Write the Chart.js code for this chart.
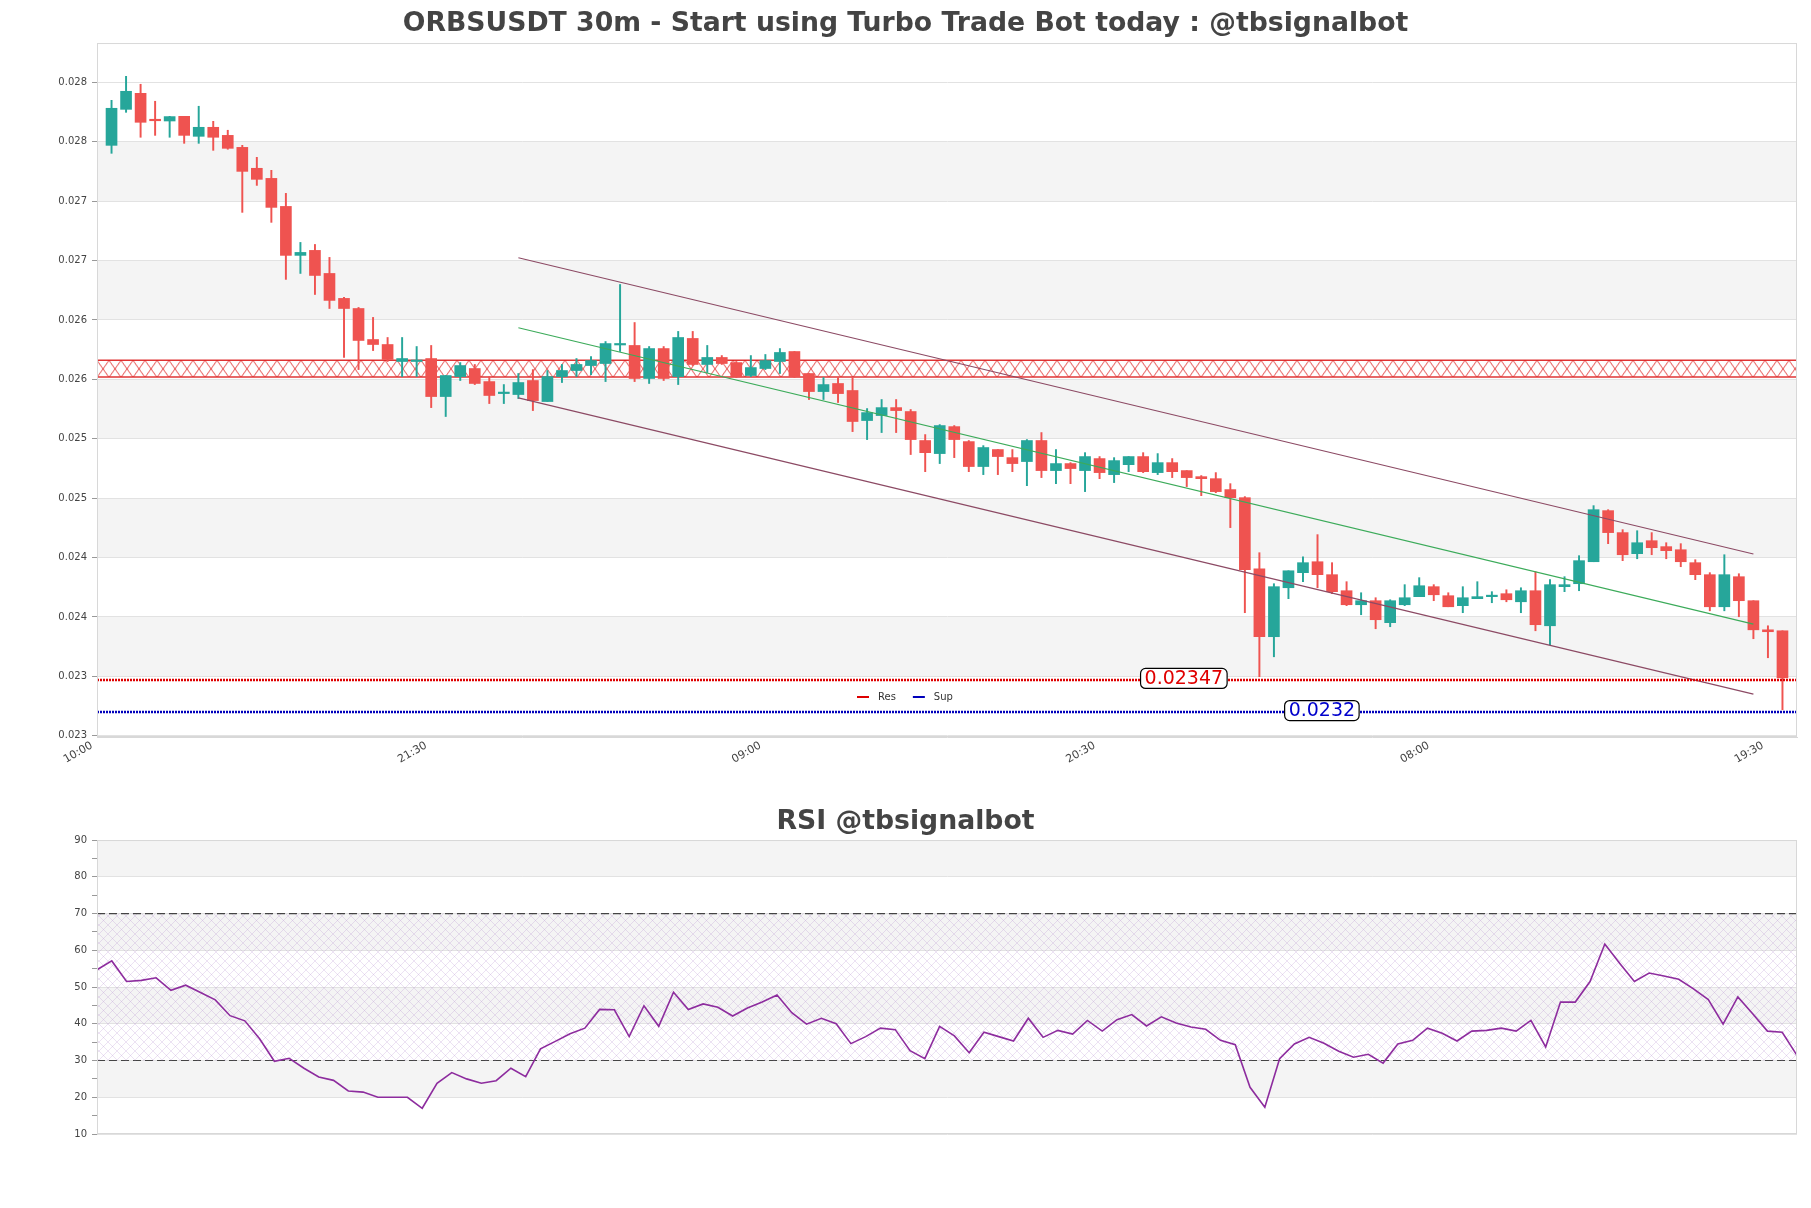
<!DOCTYPE html>
<html lang="en">
  <head>
    <meta charset="UTF-8" />
    <title>ORBSUSDT 30m</title>
    <script src="https://cdn.jsdelivr.net/npm/chart.js@4.4.0/dist/chart.umd.min.js"></script>
    <style>
      body { margin: 0; background: #fff; }
      #top { position: absolute; left: 0; top: 0; width: 1811px; height: 790px; }
      #bottom { position: absolute; left: 0; top: 790px; width: 1811px; height: 418px; }
    </style>
  </head>
  <body>
    <div id="top"><canvas id="price"></canvas></div>
    <div id="bottom"><canvas id="rsi"></canvas></div>
    <script>
      // candles (index 0 = first candle)
      const open = [0.027969,0.028272,0.028407,0.028188,0.028174,0.028213,0.028045,0.028121,0.028053,0.027952,
        0.027776,0.027691,0.027455,0.027043,0.027085,0.026891,0.026681,0.026596,0.026335,0.026293,
        0.026150,0.026150,0.026175,0.025855,0.026023,0.026091,0.025981,0.025880,0.025872,0.025990,
        0.025813,0.026023,0.026074,0.026116,0.026133,0.026289,0.026285,0.026007,0.026259,0.026023,
        0.026344,0.026125,0.026184,0.026141,0.026032,0.026091,0.026150,0.026234,0.026049,0.025897,
        0.025965,0.025906,0.025653,0.025695,0.025762,0.025729,0.025485,0.025375,0.025602,0.025476,
        0.025266,0.025409,0.025341,0.025308,0.025485,0.025232,0.025291,0.025232,0.025333,0.025198,
        0.025282,0.025350,0.025215,0.025299,0.025232,0.025181,0.025164,0.025072,0.025004,0.024406,
        0.023834,0.024246,0.024373,0.024465,0.024356,0.024221,0.024103,0.024137,0.023952,0.024103,
        0.024171,0.024255,0.024179,0.024095,0.024154,0.024171,0.024196,0.024128,0.024221,0.023926,
        0.024255,0.024280,0.024465,0.024895,0.024710,0.024533,0.024642,0.024592,0.024566,0.024457,
        0.024356,0.024086,0.024339,0.024137,0.023892,0.023884];
      const high = [0.028348,0.028550,0.028483,0.028340,0.028213,0.028213,0.028298,0.028171,0.028096,0.027969,
        0.027868,0.027759,0.027565,0.027152,0.027135,0.027026,0.026689,0.026605,0.026521,0.026352,
        0.026352,0.026276,0.026285,0.026032,0.026141,0.026125,0.026023,0.025956,0.026049,0.026082,
        0.026074,0.026125,0.026175,0.026192,0.026318,0.026798,0.026478,0.026276,0.026276,0.026403,
        0.026403,0.026285,0.026200,0.026150,0.026200,0.026209,0.026259,0.026234,0.026049,0.026015,
        0.026015,0.026015,0.025754,0.025830,0.025830,0.025746,0.025535,0.025619,0.025611,0.025485,
        0.025442,0.025409,0.025409,0.025493,0.025552,0.025409,0.025299,0.025383,0.025350,0.025341,
        0.025350,0.025383,0.025375,0.025333,0.025232,0.025190,0.025215,0.025122,0.025013,0.024541,
        0.024280,0.024389,0.024507,0.024693,0.024457,0.024297,0.024204,0.024162,0.024145,0.024272,
        0.024331,0.024272,0.024204,0.024255,0.024297,0.024213,0.024229,0.024246,0.024381,0.024314,
        0.024339,0.024516,0.024937,0.024903,0.024735,0.024726,0.024710,0.024625,0.024617,0.024482,
        0.024373,0.024524,0.024364,0.024137,0.023926,0.023884];
      const low = [0.027902,0.028247,0.028037,0.028053,0.028037,0.027986,0.027986,0.027927,0.027936,0.027405,
        0.027632,0.027321,0.026841,0.026891,0.026714,0.026596,0.026184,0.026082,0.026242,0.026150,
        0.026023,0.026023,0.025762,0.025687,0.025990,0.025956,0.025796,0.025796,0.025838,0.025737,
        0.025813,0.025973,0.026023,0.026040,0.025981,0.026234,0.025981,0.025965,0.025990,0.025956,
        0.026116,0.026057,0.026125,0.026015,0.026023,0.026082,0.026049,0.026015,0.025830,0.025830,
        0.025805,0.025560,0.025493,0.025552,0.025552,0.025367,0.025223,0.025291,0.025341,0.025223,
        0.025198,0.025198,0.025223,0.025105,0.025173,0.025122,0.025122,0.025055,0.025164,0.025131,
        0.025223,0.025215,0.025198,0.025173,0.025097,0.025021,0.025046,0.024752,0.024036,0.023497,
        0.023665,0.024154,0.024297,0.024246,0.024196,0.024095,0.024019,0.023901,0.023918,0.024095,
        0.024171,0.024137,0.024086,0.024036,0.024154,0.024120,0.024128,0.024036,0.023884,0.023766,
        0.024213,0.024221,0.024465,0.024617,0.024474,0.024490,0.024524,0.024490,0.024423,0.024314,
        0.024052,0.024052,0.024002,0.023817,0.023657,0.023219];
      const close = [0.028281,0.028424,0.028163,0.028176,0.028211,0.028053,0.028121,0.028037,0.027944,0.027750,
        0.027683,0.027447,0.027043,0.027068,0.026874,0.026664,0.026596,0.026327,0.026293,0.026167,
        0.026175,0.026154,0.025855,0.026032,0.026116,0.025965,0.025864,0.025885,0.025973,0.025821,
        0.026023,0.026074,0.026125,0.026158,0.026301,0.026293,0.026007,0.026259,0.026007,0.026352,
        0.026125,0.026184,0.026133,0.026023,0.026099,0.026158,0.026226,0.026023,0.025897,0.025956,
        0.025880,0.025645,0.025720,0.025762,0.025737,0.025493,0.025383,0.025611,0.025493,0.025266,
        0.025426,0.025350,0.025291,0.025485,0.025232,0.025291,0.025249,0.025350,0.025215,0.025316,
        0.025350,0.025223,0.025299,0.025223,0.025173,0.025164,0.025055,0.025004,0.024398,0.023834,
        0.024255,0.024389,0.024457,0.024356,0.024213,0.024103,0.024137,0.023977,0.024137,0.024162,
        0.024263,0.024187,0.024086,0.024162,0.024171,0.024175,0.024145,0.024221,0.023935,0.024272,
        0.024272,0.024474,0.024903,0.024710,0.024524,0.024625,0.024583,0.024558,0.024465,0.024356,
        0.024086,0.024356,0.024137,0.023892,0.023876,0.023488];

      const rsi = [54.7,57.1,51.5,51.8,52.5,49.1,50.5,48.5,46.5,42.2,40.8,35.9,29.8,30.6,27.9,25.5,24.6,21.7,21.4,20.0,
        20.0,20.0,17.0,23.8,26.7,25.0,23.8,24.5,27.9,25.6,33.2,35.2,37.3,38.8,43.9,43.8,36.5,44.9,39.3,48.6,
        43.9,45.4,44.5,42.1,44.3,45.9,47.8,43.0,39.9,41.5,40.0,34.6,36.5,38.8,38.4,32.7,30.5,39.3,36.7,32.1,
        37.7,36.5,35.3,41.5,36.3,38.2,37.2,40.9,38.0,41.1,42.5,39.4,41.9,40.2,39.1,38.5,35.5,34.3,22.7,17.3,
        30.5,34.5,36.3,34.7,32.5,30.9,31.7,29.3,34.5,35.5,38.8,37.4,35.3,38.0,38.2,38.8,38.0,40.9,33.7,45.9,
        45.9,51.5,61.7,56.5,51.5,53.8,53.0,52.1,49.5,46.6,39.9,47.3,42.7,38.0,37.7,31.4];

      const resLevel = 0.02347;
      const supLevel = 0.0232;
      const zoneLow = 0.02602;
      const zoneHigh = 0.02616;
      const channelX = [28, 113];
      const channelUpper = [0.027023, 0.02453];
      const channelLower = [0.025844, 0.023351];
      const channelMid = [0.026434, 0.02394];

      const priceTicks = [0.023, 0.0235, 0.024, 0.0245, 0.025, 0.0255, 0.026, 0.0265, 0.027, 0.0275, 0.028, 0.0285];
      const priceTickLabels = ["0.023", "0.023", "0.024", "0.024", "0.025", "0.025", "0.026", "0.026", "0.027", "0.027", "0.028", "0.028"];
      const timeTicks = [-1, 22, 45, 68, 91, 114];
      const timeLabels = ["10:00", "21:30", "09:00", "20:30", "08:00", "19:30"];
      const rsiTicks = [10, 15, 20, 25, 30, 35, 40, 45, 50, 55, 60, 65, 70, 75, 80, 85, 90];
      const priceBands = [[0.0235, 0.024], [0.0245, 0.025], [0.0255, 0.026], [0.0265, 0.027], [0.0275, 0.028]];
      const rsiBands = [[20, 30], [40, 50], [60, 70], [80, 90]];

      Chart.defaults.font.family = "'DejaVu Sans', sans-serif";
      Chart.defaults.color = "#444";

      const upColor = "#26a69a";
      const downColor = "#ef5350";
      const candleColors = close.map((c, i) => (c >= open[i] ? upColor : downColor));

      // red "xx" hatch that fits the zone height, anchored on the zone top
      function zoneHatch(chart) {
        const y = chart.scales.y;
        if (!chart.chartArea || !y) return "rgba(0,0,0,0)";
        const top = y.getPixelForValue(zoneHigh);
        const h = Math.round(y.getPixelForValue(zoneLow) - top);
        if (!isFinite(h) || !isFinite(top) || h < 2) return "rgba(0,0,0,0)";
        const c = document.createElement("canvas");
        c.width = 12; c.height = h;
        const g = c.getContext("2d");
        g.strokeStyle = "rgba(225,40,40,0.85)"; g.lineWidth = 1;
        g.beginPath();
        g.moveTo(0, 0); g.lineTo(12, h);
        g.moveTo(12, 0); g.lineTo(0, h);
        g.stroke();
        const p = chart.ctx.createPattern(c, "repeat");
        p.setTransform(new DOMMatrix().translate(chart.chartArea.left, top));
        return p;
      }

      // faint purple cross hatch for the 30-70 band
      function rsiHatch(chart) {
        const c = document.createElement("canvas");
        c.width = 9; c.height = 9;
        const g = c.getContext("2d");
        g.strokeStyle = "rgba(175,135,205,0.3)"; g.lineWidth = 0.8;
        g.beginPath();
        g.moveTo(0, 0); g.lineTo(9, 9);
        g.moveTo(9, 0); g.lineTo(0, 9);
        g.stroke();
        return chart.ctx.createPattern(c, "repeat");
      }

      const bands = {
        id: "bands",
        beforeDraw(chart, args, opts) {
          const { ctx, chartArea: a, scales: { y } } = chart;
          ctx.save();
          ctx.fillStyle = "#f4f4f4";
          opts.ranges.forEach(([lo, hi]) => {
            const t = y.getPixelForValue(hi);
            ctx.fillRect(a.left, t, a.width, y.getPixelForValue(lo) - t);
          });
          ctx.restore();
        },
        afterDraw(chart) {
          const { ctx, chartArea: a } = chart;
          ctx.save();
          ctx.strokeStyle = "#d8d8d8";
          ctx.lineWidth = 1;
          ctx.strokeRect(a.left + 0.5, a.top + 0.5, a.width - 1, a.height - 1);
          ctx.restore();
        }
      };

      const tags = {
        id: "tags",
        afterDatasetsDraw(chart) {
          const { ctx, chartArea: a, scales: { x, y } } = chart;
          ctx.save();
          function tag(value, at, color) {
            const text = String(value);
            ctx.font = "19px 'DejaVu Sans'";
            const w = ctx.measureText(text).width + 8, h = 20;
            const cx = x.getPixelForValue(at), cy = y.getPixelForValue(value) - 1.5;
            ctx.beginPath();
            ctx.roundRect(cx - w / 2, cy - h / 2, w, h, 5);
            ctx.fillStyle = "#fff"; ctx.fill();
            ctx.lineWidth = 1.2; ctx.strokeStyle = "#000"; ctx.stroke();
            ctx.fillStyle = color;
            ctx.textAlign = "center"; ctx.textBaseline = "middle";
            ctx.fillText(text, cx, cy + 1);
          }
          tag(resLevel, 73.8, "#e00000");
          tag(supLevel, 83.3, "#0000cc");

          // legend
          ctx.font = "10px 'DejaVu Sans'";
          ctx.textAlign = "left"; ctx.textBaseline = "middle";
          const ly = a.bottom - 40;
          let lx = a.left + 760;
          [["Res", "#dd0000"], ["Sup", "#0000bb"]].forEach(([name, col]) => {
            ctx.strokeStyle = col; ctx.lineWidth = 2;
            ctx.beginPath(); ctx.moveTo(lx, ly); ctx.lineTo(lx + 12, ly); ctx.stroke();
            ctx.fillStyle = "#333";
            ctx.fillText(name, lx + 21, ly);
            lx += 21 + ctx.measureText(name).width + 17;
          });
          ctx.restore();
        }
      };

      function flat(v, x0, x1) {
        return [{ x: x0, y: v }, { x: x1, y: v }];
      }
      function seg(vals) {
        return vals.map((v, i) => ({ x: channelX[i], y: v }));
      }

      // empty right-hand axis keeping a 14px margin, so the titles stay centred on the canvas
      const spacer = {
        position: "right", display: true,
        afterFit: (s) => { s.width = 14; },
        grid: { display: false }, border: { display: false }, ticks: { display: false }
      };

      new Chart(document.getElementById("price"), {
        type: "bar",
        data: {
          datasets: [
            { type: "line", data: flat(resLevel, -1, 116), borderColor: "#dd0000", borderWidth: 2.5, borderDash: [2, 1], order: 0 },
            { type: "line", data: flat(supLevel, -1, 116), borderColor: "#0000bb", borderWidth: 2.5, borderDash: [2, 1], order: 0 },
            { type: "line", data: seg(channelUpper), borderColor: "#8c4a64", borderWidth: 1.2, order: 1 },
            { type: "line", data: seg(channelLower), borderColor: "#8c4a64", borderWidth: 1.2, order: 1 },
            { type: "line", data: seg(channelMid), borderColor: "#3cab5a", borderWidth: 1.2, order: 1 },
            {
              data: open.map((o, i) => ({ x: i, y: [o, close[i]] })),
              backgroundColor: candleColors, barThickness: 11, minBarLength: 1.5, grouped: false, order: 2
            },
            {
              data: low.map((l, i) => ({ x: i, y: [l, high[i]] })),
              backgroundColor: candleColors, barThickness: 1.3, grouped: false, order: 3
            },
            {
              type: "line", data: flat(zoneHigh, -1, 116), borderColor: "rgba(220,30,30,0.9)", borderWidth: 1.5,
              fill: "+1", backgroundColor: (c) => zoneHatch(c.chart), order: 4
            },
            { type: "line", data: flat(zoneLow, -1, 116), borderColor: "rgba(220,30,30,0.9)", borderWidth: 1.5, order: 4 }
          ]
        },
        options: {
          animation: false,
          responsive: true,
          maintainAspectRatio: false,
          events: [],
          layout: { padding: 0 },
          elements: { point: { radius: 0 } },
          plugins: {
            legend: { display: false },
            tooltip: { enabled: false },
            bands: { ranges: priceBands },
            title: {
              display: true,
              text: "ORBSUSDT 30m - Start using Turbo Trade Bot today : @tbsignalbot",
              font: { size: 26.7, weight: "bold" },
              color: "#444",
              padding: { top: 8, bottom: 3 }
            }
          },
          scales: {
            x: {
              type: "linear", min: -1, max: 116, bounds: "data", offset: false,
              afterBuildTicks: (s) => { s.ticks = timeTicks.map((v) => ({ value: v })); },
              afterFit: (s) => { s.height = 53; },
              grid: { display: false, drawTicks: false, offset: false },
              border: { color: "#d8d8d8" },
              ticks: {
                autoSkip: false, maxRotation: 30, minRotation: 30, padding: 2, labelOffset: -5,
                font: { size: 11 }, color: "#444",
                callback: (v, i) => timeLabels[i]
              }
            },
            y: {
              min: 0.02299, max: 0.02883, bounds: "data",
              afterBuildTicks: (s) => { s.ticks = priceTicks.map((v) => ({ value: v })); },
              afterFit: (s) => { s.width = 97; },
              grid: { color: "#e2e2e2", tickColor: "#999", tickLength: 5 },
              border: { color: "#d8d8d8" },
              ticks: { padding: 5, font: { size: 10 }, color: "#444", callback: (v, i) => priceTickLabels[i] }
            },
            pad: spacer
          }
        },
        plugins: [bands, tags]
      });

      new Chart(document.getElementById("rsi"), {
        type: "line",
        data: {
          datasets: [
            { data: rsi.map((v, i) => ({ x: i, y: v })), borderColor: "#8d2c9e", borderWidth: 1.6, order: 0 },
            {
              data: flat(70, 0, 115), borderColor: "#444", borderWidth: 1.2, borderDash: [8, 4], order: 1,
              fill: "+1", backgroundColor: (c) => rsiHatch(c.chart)
            },
            { data: flat(30, 0, 115), borderColor: "#444", borderWidth: 1.2, borderDash: [8, 4], order: 1 }
          ]
        },
        options: {
          animation: false,
          responsive: true,
          maintainAspectRatio: false,
          events: [],
          layout: { padding: { left: 0, right: 0, top: 0, bottom: 74 } },
          elements: { point: { radius: 0 } },
          plugins: {
            legend: { display: false },
            tooltip: { enabled: false },
            bands: { ranges: rsiBands },
            title: {
              display: true,
              text: "RSI @tbsignalbot",
              font: { size: 26.7, weight: "bold" },
              color: "#444",
              padding: { top: 16, bottom: 2 }
            }
          },
          scales: {
            x: { type: "linear", min: 0, max: 115, display: false },
            y: {
              min: 10, max: 90, bounds: "data",
              afterBuildTicks: (s) => { s.ticks = rsiTicks.map((v) => ({ value: v })); },
              afterFit: (s) => { s.width = 97; },
              grid: {
                color: (c) => (c.tick && c.tick.value % 10 === 0 ? "#e2e2e2" : "rgba(0,0,0,0)"),
                tickColor: "#999", tickLength: 5
              },
              border: { color: "#d8d8d8" },
              ticks: { padding: 5, font: { size: 10 }, color: "#444", callback: (v) => (v % 10 === 0 ? String(v) : "") }
            },
            pad: spacer
          }
        },
        plugins: [bands]
      });
    </script>
  </body>
</html>
